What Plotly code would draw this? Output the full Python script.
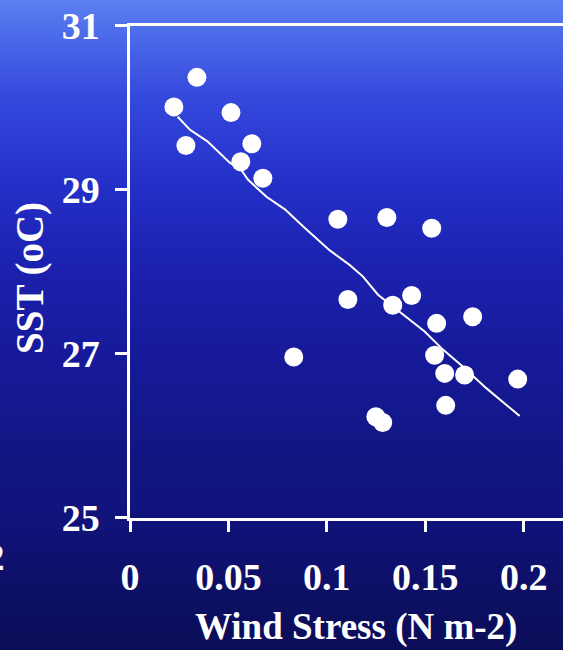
import plotly.graph_objects as go

# ---- data ----
wind_stress = [0.0223, 0.034, 0.0284, 0.0513, 0.0619, 0.0563, 0.0675,
               0.1056, 0.1305, 0.1533, 0.1107, 0.1335, 0.1431, 0.1558,
               0.1741, 0.0832, 0.1548, 0.1599, 0.170, 0.197, 0.1604,
               0.1249, 0.1284]
sst = [30.01, 30.37, 29.54, 29.94, 29.56, 29.34, 29.14,
       28.64, 28.66, 28.53, 27.66, 27.59, 27.71, 27.37,
       27.45, 26.96, 26.98, 26.76, 26.74, 26.69, 26.37,
       26.23, 26.16]

fit_x = [0.0242, 0.0305, 0.0393, 0.0507, 0.0565, 0.060, 0.0695, 0.0787,
         0.088, 0.1015, 0.1117, 0.1184, 0.126, 0.137, 0.1497, 0.159,
         0.1692, 0.181, 0.198]
fit_y = [29.89, 29.73, 29.59, 29.33, 29.24, 29.12, 28.91, 28.76,
         28.55, 28.26, 28.08, 27.94, 27.72, 27.51, 27.27, 27.05,
         26.84, 26.58, 26.24]

x_tickvals = [0, 0.05, 0.1, 0.15, 0.2]
x_ticktext = ["0", "0.05", "0.1", "0.15", "0.2"]
y_tickvals = [25, 27, 29, 31]
y_ticktext = ["25", "27", "29", "31"]

# background gradient stops (depth from top of picture -> colour)
bg_depth = [0.0, 0.06, 0.15, 0.28, 0.40, 0.54, 0.69, 0.80, 0.92, 1.0]
bg_color = ["#5b7ff0", "#4a68e8", "#3448dc", "#2430c8", "#1c22b0",
            "#161a9a", "#121684", "#10137a", "#0d0f62", "#0b0d58"]

W, H = 563, 650
FONT = "Liberation Serif, Times New Roman, serif"

fig = go.Figure()

# background gradient on full-paper axes
ys = [1.05] + [1 - d for d in bg_depth] + [-0.05]
zs = [0.0] + bg_depth + [1.0]
fig.add_trace(go.Heatmap(
    x=[-0.05, 1.05], y=ys, z=[[v, v] for v in zs],
    colorscale=[[d, c] for d, c in zip(bg_depth, bg_color)],
    zmin=0, zmax=1, zsmooth="best", showscale=False, hoverinfo="skip",
    xaxis="x", yaxis="y"))

fig.add_trace(go.Scatter(
    x=fit_x, y=fit_y, mode="lines",
    line=dict(color="white", width=2),
    xaxis="x2", yaxis="y2", showlegend=False))
fig.add_trace(go.Scatter(
    x=wind_stress, y=sst, mode="markers",
    marker=dict(color="white", size=19, line=dict(width=0)),
    xaxis="x2", yaxis="y2", showlegend=False))

x0 = 130 / W
y_bot = (H - 517.7) / H
y_top = (H - 25.7) / H

tick_font = dict(family=FONT, size=38, color="white", weight="bold")

fig.update_layout(
    width=W, height=H,
    margin=dict(l=0, r=0, t=0, b=0, pad=0),
    paper_bgcolor="#0b0d58",
    plot_bgcolor="rgba(0,0,0,0)",
    showlegend=False,
    xaxis=dict(domain=[0, 1], range=[0, 1], visible=False, fixedrange=True,
               automargin=False),
    yaxis=dict(domain=[0, 1], range=[0, 1], visible=False, fixedrange=True,
               automargin=False),
    xaxis2=dict(
        domain=[x0, 1], range=[0, 0.22], anchor="y2", automargin=False,
        showline=True, linecolor="white", linewidth=2.5, mirror=True,
        showgrid=False, zeroline=False,
        ticks="outside", ticklen=12, tickwidth=2.5, tickcolor="white",
        tickvals=x_tickvals, ticktext=x_ticktext,
        tickfont=tick_font, ticklabelstandoff=12,
    ),
    yaxis2=dict(
        domain=[y_bot, y_top], range=[25, 31], anchor="x2", automargin=False,
        showline=True, linecolor="white", linewidth=2.5,
        showgrid=False, zeroline=False,
        ticks="outside", ticklen=12, tickwidth=2.5, tickcolor="white",
        tickvals=y_tickvals, ticktext=y_ticktext,
        tickfont=tick_font, ticklabelstandoff=8,
    ),
    annotations=[
        dict(text="Wind Stress (N m-2)", xref="paper", yref="paper",
             x=356 / W, y=(H - 627) / H, xanchor="center", yanchor="middle",
             showarrow=False,
             font=dict(family=FONT, size=37, color="white", weight="bold")),
        dict(text="SST (oC)", xref="paper", yref="paper",
             x=30 / W, y=(H - 278) / H, xanchor="center", yanchor="middle",
             textangle=-90, showarrow=False,
             font=dict(family=FONT, size=39, color="white", weight="bold")),
        dict(text="2", xref="paper", yref="paper",
             x=0, y=(H - 557) / H, xanchor="right", yanchor="middle",
             xshift=7, showarrow=False,
             font=dict(family=FONT, size=37, color="white", weight="bold")),
    ],
)

fig.write_html(
    "out.html",
    config={"displayModeBar": False},
    post_script="document.body.style.margin='0';"
                "document.body.style.overflow='hidden';"
                "document.body.style.background='#0b0d58';",
)
